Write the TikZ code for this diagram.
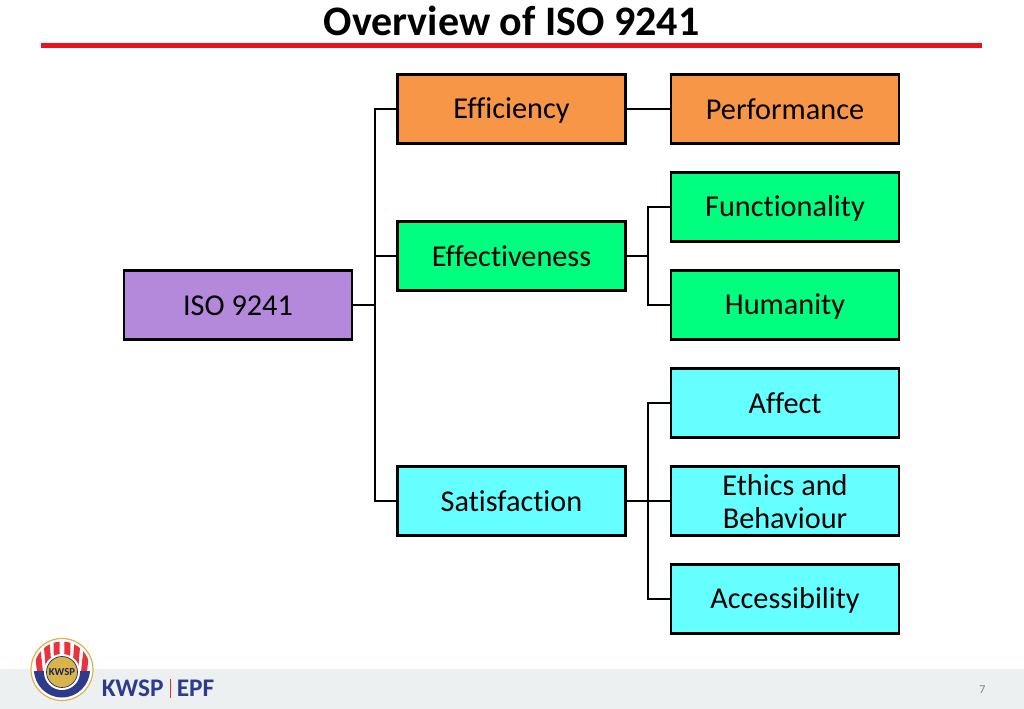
\documentclass[tikz,border=0pt]{standalone}
\usepackage{fontspec}
\setmainfont[Ligatures=CommonOff]{Carlito}
\definecolor{orangeb}{HTML}{F79646}
\definecolor{greenb}{HTML}{00FF7F}
\definecolor{cyanb}{HTML}{66FFFF}
\definecolor{purpleb}{HTML}{B488DB}
\definecolor{redline}{HTML}{E8141C}
\definecolor{footer}{HTML}{ECF0F0}
\definecolor{navy}{HTML}{2E3A8C}
\definecolor{logored}{HTML}{E8323C}
\definecolor{logogold}{HTML}{D9B44A}
\newcommand{\toprule}{\rule{0pt}{18pt}}
\newcommand{\botrule}{\rule[-2pt]{0pt}{2pt}}
\tikzset{
  box/.style={draw=black,line width=1.9pt,minimum width=171pt,minimum height=51.8pt,inner sep=0pt,align=center,text=black,font=\fontsize{22.7}{25}\selectfont},
  conn/.style={draw=black,line width=1.9pt,line cap=rect}
}
\begin{document}
\begin{tikzpicture}[x=0.75pt,y=-0.75pt]
\useasboundingbox (0,0) rectangle (1024,709);
\fill[white] (0,0) rectangle (1024,709);
\fill[footer] (0,669) rectangle (1024,709);
\node[font=\fontsize{31.5}{36}\selectfont\bfseries,text=black,inner sep=0pt] (title) at (511.5,21) {Overview of ISO 9241};
\draw[redline,line width=3.3pt] (41,45.5) -- (982,45.5);
% boxes
\node[box,fill=purpleb] (iso) at (238,305) {\toprule ISO 9241\botrule};
\node[box,fill=orangeb] (eff) at (511.5,109) {\toprule Efficiency\botrule};
\node[box,fill=greenb] (efv) at (511.5,256) {\toprule Effectiveness\botrule};
\node[box,fill=cyanb] (sat) at (511.5,501) {\toprule Satisfaction\botrule};
\node[box,fill=orangeb] (perf) at (785,109) {\toprule Performance\botrule};
\node[box,fill=greenb] (func) at (785,207) {\toprule Functionality\botrule};
\node[box,fill=greenb] (hum) at (785,305) {\toprule Humanity\botrule};
\node[box,fill=cyanb] (aff) at (785,403) {\toprule Affect\botrule};
\node[box,fill=cyanb] (eth) at (785,501) {\toprule Ethics and\\Behaviour\botrule};
\node[box,fill=cyanb] (acc) at (785,599) {\toprule Accessibility\botrule};
% connectors
\coordinate (j1) at (375,305);
\coordinate (j2) at (648,256);
\coordinate (j3) at (648,501);
\draw[conn] (iso.east) -- (j1);
\draw[conn] (j1) |- (eff.west);
\draw[conn] (j1) |- (efv.west);
\draw[conn] (j1) |- (sat.west);
\draw[conn] (eff.east) -- (perf.west);
\draw[conn] (efv.east) -- (j2);
\draw[conn] (j2) |- (func.west);
\draw[conn] (j2) |- (hum.west);
\draw[conn] (sat.east) -- (eth.west);
\draw[conn] (j3) |- (aff.west);
\draw[conn] (j3) |- (acc.west);
% logo
\fill[white] (62,669.5) circle (31.5);
\draw[logogold,line width=0.9pt] (62,669.5) circle (31);
\begin{scope}
\clip (62,669.5) circle (28);
\foreach \x/\b in {-26/-22,-16/-13,-5.5/-5,5.5/5,16/13,26/22}{\fill[logored] (62+\x-3,635) -- (62+\x+3,635) -- (62+\b+3,672) -- (62+\b-3,672) -- cycle;}
\fill[navy] (30,671) rectangle (95,702);
\fill[white] (62,672) circle (18);
\end{scope}
\fill[logogold] (62,672) circle (15.5);
\draw[navy!70!black,line width=0.5pt] (62,672) circle (15.5);
\node[inner sep=0pt,font=\fontsize{8}{9}\selectfont\bfseries,text=navy!60!black] (seal) at (62,672) {KWSP};
\node[anchor=west,inner sep=0pt,font=\fontsize{19}{22}\selectfont\bfseries,text=navy] (k) at (101.5,688) {KWSP};
\draw[logored,line width=0.7pt] (170.5,679) -- (170.5,698);
\node[anchor=west,inner sep=0pt,font=\fontsize{19}{22}\selectfont\bfseries,text=navy] (e) at (176.5,688) {EPF};
\node[inner sep=0pt,font=\fontsize{9}{11}\selectfont,text=black!50] (page) at (982.5,690) {7};
\end{tikzpicture}
\end{document}
